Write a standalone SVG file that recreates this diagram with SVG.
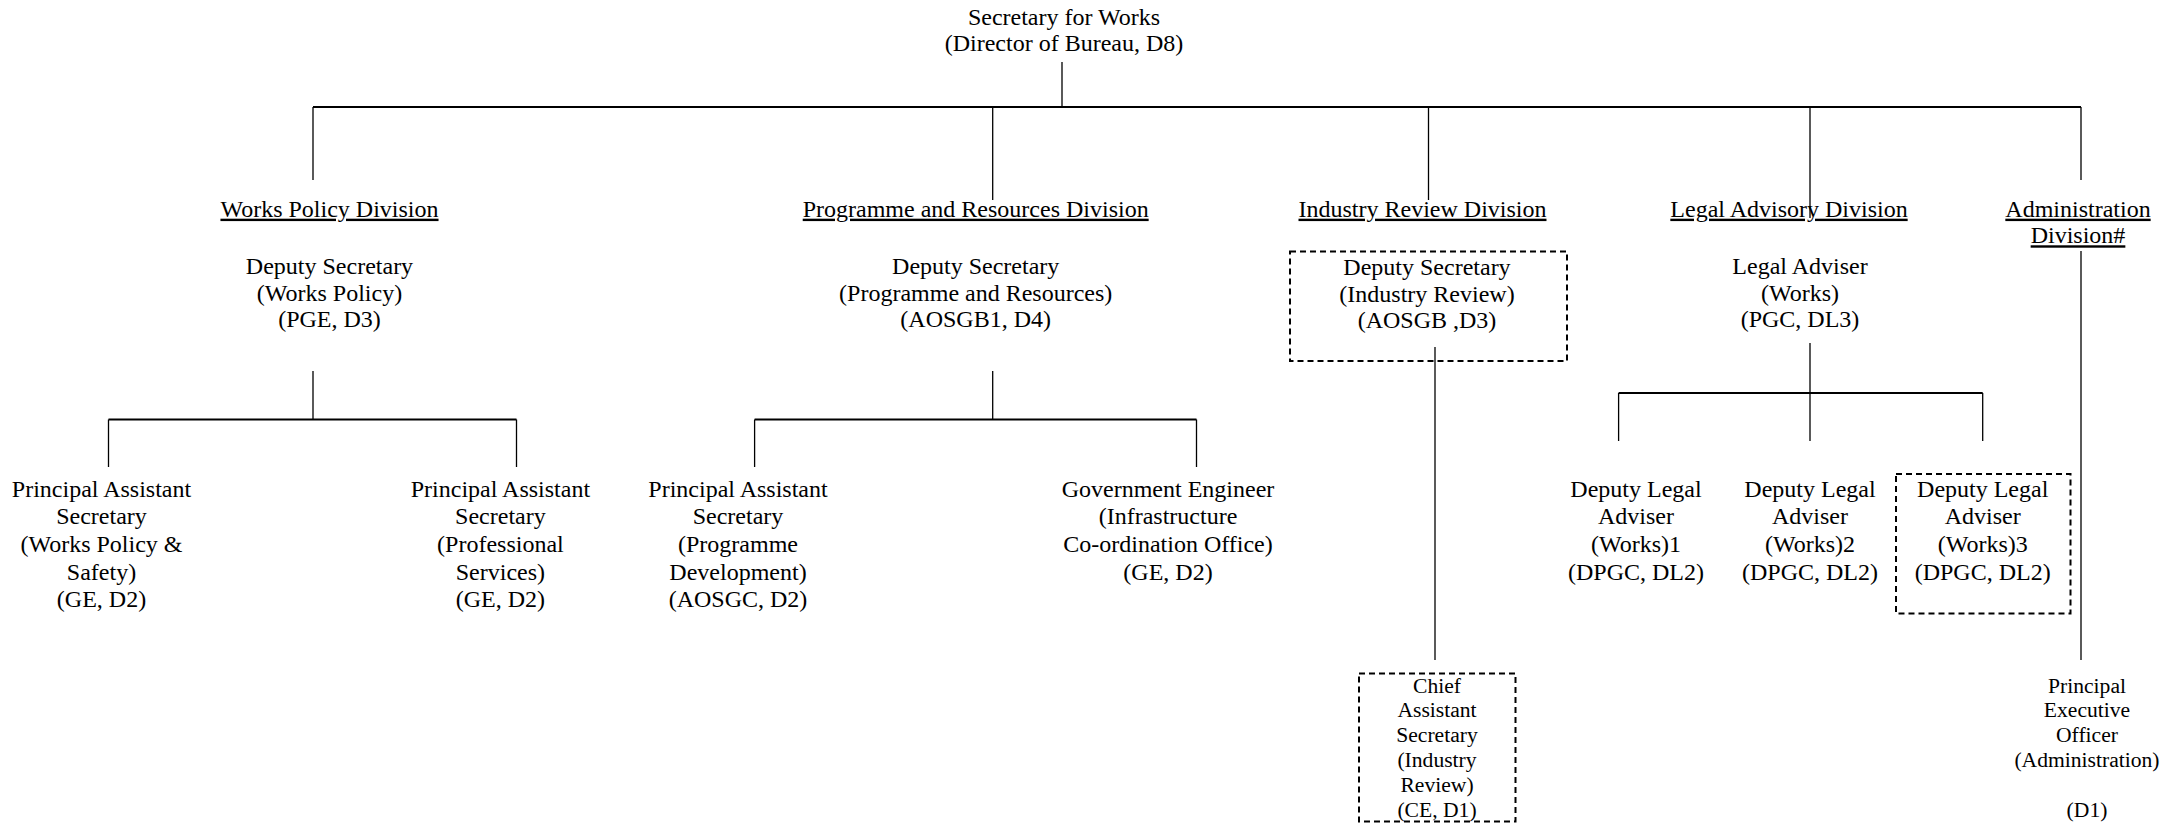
<svg xmlns="http://www.w3.org/2000/svg" width="2170" height="823" viewBox="0 0 2170 823">
<style>
text{font-family:"Liberation Serif","Times New Roman",serif;font-size:24px;fill:#000;text-anchor:middle}
.sm{font-size:21.6px}
.u{text-decoration:underline}
.h{stroke:#000;stroke-width:1.8;fill:none}
.v{stroke:#000;stroke-width:1.3;fill:none}
.dash{stroke:#000;stroke-width:2;stroke-dasharray:6 4;fill:none}
</style>
<rect width="2170" height="823" fill="#fff"/>
<g id="connectors">
<line class="v" x1="1062" y1="62" x2="1062" y2="108"/>
<line class="h" x1="313" y1="107" x2="2081" y2="107"/>
<line class="v" x1="313" y1="107" x2="313" y2="180"/>
<line class="v" x1="992.7" y1="107" x2="992.7" y2="200"/>
<line class="v" x1="1428.5" y1="107" x2="1428.5" y2="200"/>
<line class="v" x1="1810" y1="107" x2="1810" y2="218"/>
<line class="v" x1="2081" y1="107" x2="2081" y2="180"/>
<line class="v" x1="313" y1="371" x2="313" y2="419.5"/>
<line class="h" x1="108.5" y1="419.5" x2="516.5" y2="419.5"/>
<line class="v" x1="108.5" y1="419.5" x2="108.5" y2="467"/>
<line class="v" x1="516.5" y1="419.5" x2="516.5" y2="467"/>
<line class="v" x1="992.7" y1="371" x2="992.7" y2="419.5"/>
<line class="h" x1="754.6" y1="419.5" x2="1196.5" y2="419.5"/>
<line class="v" x1="754.6" y1="419.5" x2="754.6" y2="467"/>
<line class="v" x1="1196.5" y1="419.5" x2="1196.5" y2="467"/>
<line class="v" x1="1435" y1="347" x2="1435" y2="660"/>
<line class="v" x1="1810" y1="343" x2="1810" y2="393"/>
<line class="h" x1="1618.6" y1="393" x2="1982.7" y2="393"/>
<line class="v" x1="1618.6" y1="393" x2="1618.6" y2="441"/>
<line class="v" x1="1810" y1="393" x2="1810" y2="441"/>
<line class="v" x1="1982.7" y1="393" x2="1982.7" y2="441"/>
<line class="v" x1="2081" y1="251" x2="2081" y2="660"/>
</g>
<g id="secretary">
<text x="1064" y="25">Secretary for Works</text>
<text x="1064" y="51">(Director of Bureau, D8)</text>
</g>
<g id="works-policy-division">
<text class="u" x="329.5" y="216.7">Works Policy Division</text>
<text x="329.5" y="274">Deputy Secretary</text>
<text x="329.5" y="300.7">(Works Policy)</text>
<text x="329.5" y="327.4">(PGE, D3)</text>
</g>
<g id="programme-resources-division">
<text class="u" x="975.7" y="216.7">Programme and Resources Division</text>
<text x="975.7" y="274">Deputy Secretary</text>
<text x="975.7" y="300.7">(Programme and Resources)</text>
<text x="975.7" y="327.4">(AOSGB1, D4)</text>
</g>
<g id="industry-review-division">
<text class="u" x="1422.5" y="216.7">Industry Review Division</text>
<rect class="dash" x="1290" y="251.5" width="277" height="109.5"/>
<text x="1427" y="275">Deputy Secretary</text>
<text x="1427" y="301.7">(Industry Review)</text>
<text x="1427" y="328.4">(AOSGB ,D3)</text>
</g>
<g id="legal-advisory-division">
<text class="u" x="1789" y="216.7">Legal Advisory Division</text>
<text x="1800" y="274">Legal Adviser</text>
<text x="1800" y="300.7">(Works)</text>
<text x="1800" y="327.4">(PGC, DL3)</text>
</g>
<g id="administration-division">
<text class="u" x="2078" y="216.7">Administration</text>
<text class="u" x="2078" y="243.3">Division#</text>
</g>
<g id="pas-works-policy-safety">
<text x="101.5" y="496.7">Principal Assistant</text>
<text x="101.5" y="524.3">Secretary</text>
<text x="101.5" y="552">(Works Policy &amp;</text>
<text x="101.5" y="579.6">Safety)</text>
<text x="101.5" y="607.2">(GE, D2)</text>
</g>
<g id="pas-professional-services">
<text x="500.4" y="496.7">Principal Assistant</text>
<text x="500.4" y="524.3">Secretary</text>
<text x="500.4" y="552">(Professional</text>
<text x="500.4" y="579.6">Services)</text>
<text x="500.4" y="607.2">(GE, D2)</text>
</g>
<g id="pas-programme-development">
<text x="738" y="496.7">Principal Assistant</text>
<text x="738" y="524.3">Secretary</text>
<text x="738" y="552">(Programme</text>
<text x="738" y="579.6">Development)</text>
<text x="738" y="607.2">(AOSGC, D2)</text>
</g>
<g id="government-engineer">
<text x="1168" y="496.7">Government Engineer</text>
<text x="1168" y="524.3">(Infrastructure</text>
<text x="1168" y="552">Co-ordination Office)</text>
<text x="1168" y="579.6">(GE, D2)</text>
</g>
<g id="chief-assistant-secretary">
<rect class="dash" x="1359" y="673.5" width="156.5" height="148"/>
<text class="sm" x="1437" y="692.5">Chief</text>
<text class="sm" x="1437" y="717.4">Assistant</text>
<text class="sm" x="1437" y="742.3">Secretary</text>
<text class="sm" x="1437" y="767.2">(Industry</text>
<text class="sm" x="1437" y="792.1">Review)</text>
<text class="sm" x="1437" y="817">(CE, D1)</text>
</g>
<g id="deputy-legal-adviser-1">
<text x="1636" y="496.7">Deputy Legal</text>
<text x="1636" y="524.3">Adviser</text>
<text x="1636" y="552">(Works)1</text>
<text x="1636" y="579.6">(DPGC, DL2)</text>
</g>
<g id="deputy-legal-adviser-2">
<text x="1810" y="496.7">Deputy Legal</text>
<text x="1810" y="524.3">Adviser</text>
<text x="1810" y="552">(Works)2</text>
<text x="1810" y="579.6">(DPGC, DL2)</text>
</g>
<g id="deputy-legal-adviser-3">
<rect class="dash" x="1896" y="474" width="174.5" height="139.5"/>
<text x="1982.7" y="496.7">Deputy Legal</text>
<text x="1982.7" y="524.3">Adviser</text>
<text x="1982.7" y="552">(Works)3</text>
<text x="1982.7" y="579.6">(DPGC, DL2)</text>
</g>
<g id="principal-executive-officer">
<text class="sm" x="2087" y="692.5">Principal</text>
<text class="sm" x="2087" y="717.4">Executive</text>
<text class="sm" x="2087" y="742.3">Officer</text>
<text class="sm" x="2087" y="767.2">(Administration)</text>
<text class="sm" x="2087" y="817">(D1)</text>
</g>
</svg>
